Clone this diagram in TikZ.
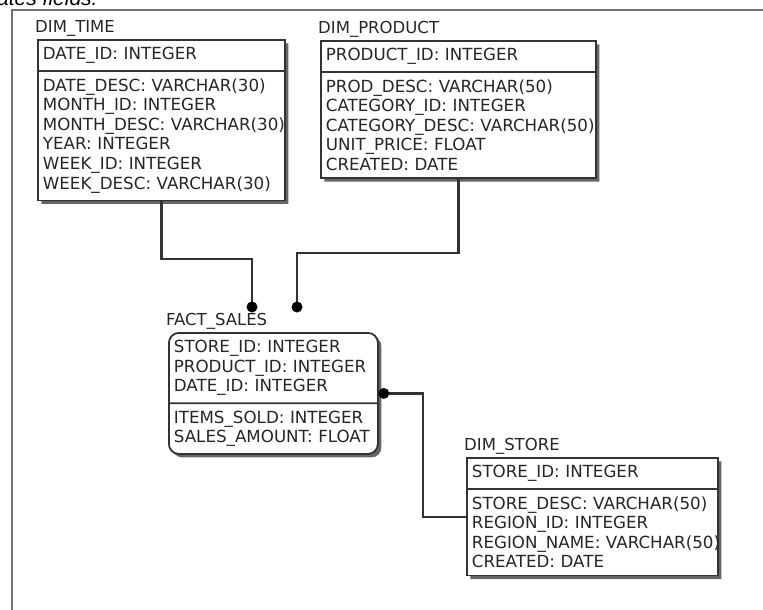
\documentclass[tikz,border=0pt]{standalone}
\usepackage{fontspec}
\setmainfont{DejaVu Sans}
\newfontfamily\notefont{Liberation Sans}
\usetikzlibrary{shapes.multipart,shadows}

\protected\def\nohyph{\hyphenpenalty=10000 \exhyphenpenalty=10000 \relax}

\tikzset{
  entity/.style={rectangle split, rectangle split parts=2, anchor=north west,
    draw=black!80, line width=1.8pt, fill=white, align=left, text=black!85,
    inner xsep=5pt, inner ysep=6.5pt,
    font=\fontsize{16.7}{19.6}\selectfont\nohyph,
    drop shadow={shadow xshift=3.5pt, shadow yshift=-3.5pt, fill=black!60, opacity=1}},
  title/.style={anchor=south west, inner sep=0pt, xshift=-2pt, yshift=2.5pt,
    font=\fontsize{16.5}{16.5}\selectfont, text=black!85},
  link/.style={draw=black!80, line width=2.2pt},
  foot/.style={fill=black}
}

\begin{document}
\begin{tikzpicture}[x=1pt,y=-1pt]
  \useasboundingbox (0,0) rectangle (763,610);
  \clip (0,0) rectangle (763,610);

  \node[anchor=base west, inner sep=0pt, font=\notefont\itshape\fontsize{21}{21}\selectfont] (note) at (-3,6) {ates fields.};
  \draw[black!55, line width=2.2pt] (763,10) -- (12,10) -- (12,610);

  % dimension and fact tables
  \node[entity, text width=237pt] (time) at (37,39)
    {DATE\_ID:~INTEGER
     \nodepart{two}DATE\_DESC:~VARCHAR(30)\\
     MONTH\_ID:~INTEGER\\
     MONTH\_DESC:~VARCHAR(30)\\
     YEAR:~INTEGER\\
     WEEK\_ID:~INTEGER\\
     WEEK\_DESC:~VARCHAR(30)};
  \node[entity, text width=265pt] (product) at (320,40)
    {PRODUCT\_ID:~INTEGER
     \nodepart{two}PROD\_DESC:~VARCHAR(50)\\
     CATEGORY\_ID:~INTEGER\\
     CATEGORY\_DESC:~VARCHAR(50)\\
     UNIT\_PRICE:~FLOAT\\
     CREATED:~DATE};
  \node[entity, rounded corners=10pt, text width=199pt] (fact) at (168,332)
    {STORE\_ID:~INTEGER\\
     PRODUCT\_ID:~INTEGER\\
     DATE\_ID:~INTEGER
     \nodepart{two}ITEMS\_SOLD:~INTEGER\\
     SALES\_AMOUNT:~FLOAT};
  \node[entity, text width=241pt] (store) at (466,457)
    {STORE\_ID:~INTEGER
     \nodepart{two}STORE\_DESC:~VARCHAR(50)\\
     REGION\_ID:~INTEGER\\
     REGION\_NAME:~VARCHAR(50)\\
     CREATED:~DATE};

  \node[title] (time-title) at (time.north west) {DIM\_TIME};
  \node[title] (product-title) at (product.north west) {DIM\_PRODUCT};
  \node[title] (fact-title) at (fact.north west) {FACT\_SALES};
  \node[title] (store-title) at (store.north west) {DIM\_STORE};

  % relationships
  \coordinate (tdot) at (252,307);
  \coordinate (pdot) at (297,307);
  \draw[link] (time.south) -- ++(0,58) -| (tdot);
  \draw[link] (product.south) -- ++(0,74) -| (pdot);
  \draw[link] (fact.east) -- ++(44,0) |- (store.west);
  \fill[foot] (tdot) circle[radius=5.5pt];
  \fill[foot] (pdot) circle[radius=5.5pt];
  \fill[foot] (fact.east) ++(5,0) circle[radius=5.5pt];
\end{tikzpicture}
\end{document}
